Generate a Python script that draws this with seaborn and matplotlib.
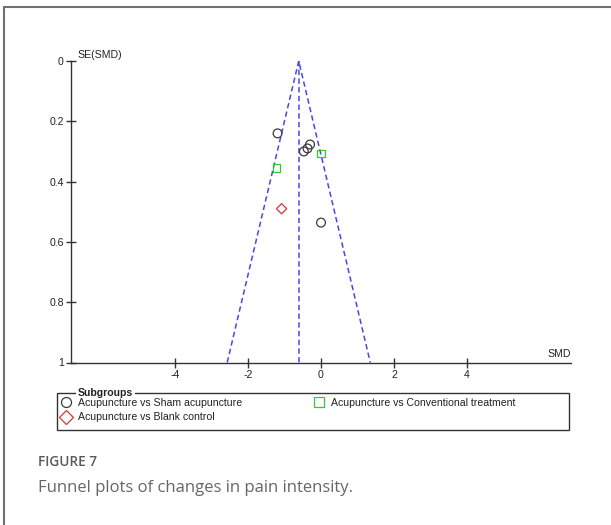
import numpy as np
import pandas as pd
import seaborn as sns
import matplotlib.pyplot as plt
from matplotlib.lines import Line2D
from matplotlib.patches import Rectangle

# Study estimates
smd = [-1.19, -0.47, -0.37, -0.30, 0.00, -1.22, 0.01, -1.08]
se = [0.24, 0.30, 0.29, 0.277, 0.536, 0.354, 0.307, 0.49]
group = ['Acupuncture vs Sham acupuncture'] * 5 + \
        ['Acupuncture vs Conventional treatment'] * 2 + \
        ['Acupuncture vs Blank control']

pooled_smd = -0.61
se_max = 1.0

group_order = ['Acupuncture vs Sham acupuncture',
               'Acupuncture vs Blank control',
               'Acupuncture vs Conventional treatment']
group_markers = {'Acupuncture vs Sham acupuncture': 'o',
                 'Acupuncture vs Blank control': 'D',
                 'Acupuncture vs Conventional treatment': 's'}
group_colors = {'Acupuncture vs Sham acupuncture': '#3a3a3a',
                'Acupuncture vs Blank control': '#dd3333',
                'Acupuncture vs Conventional treatment': '#33c933'}
group_sizes = {'Acupuncture vs Sham acupuncture': 40,
               'Acupuncture vs Blank control': 27,
               'Acupuncture vs Conventional treatment': 32}

df = pd.DataFrame({'SMD': smd, 'SE': se, 'group': group})

sns.set_theme(style='white')
plt.rcParams['font.family'] = ['Liberation Sans', 'DejaVu Sans']
fs = 7.6

fig = plt.figure(figsize=(6.11, 5.25), dpi=100)
ax = fig.add_axes([71 / 611, 1 - 362.5 / 525, 500 / 611, 301.5 / 525])

# funnel (pseudo 95% CI) and pooled effect
blue = '#4646ee'
ax.plot([pooled_smd - 1.96 * se_max, pooled_smd, pooled_smd + 1.96 * se_max],
        [se_max, 0, se_max], color=blue, lw=1.1, ls=(0, (3.5, 2.2)), zorder=1)
ax.plot([pooled_smd, pooled_smd], [0, se_max], color=blue, lw=1.1,
        ls=(0, (3.5, 2.2)), zorder=1)

for g in group_order:
    sub = df[df['group'] == g]
    sns.scatterplot(data=sub, x='SMD', y='SE', ax=ax, marker=group_markers[g],
                    s=group_sizes[g], color=group_colors[g],
                    edgecolor=group_colors[g], facecolor='none',
                    linewidth=0.9, label=g, legend=False, zorder=3)

ax.set_xlim(-6.85, 6.85)
ax.set_ylim(1, 0)
ax.set_xticks([-4, -2, 0, 2, 4])
ax.set_xticklabels(['-4', '-2', '0', '2', '4'])
ax.set_yticks([0, 0.2, 0.4, 0.6, 0.8, 1])
ax.set_yticklabels(['0', '0.2', '0.4', '0.6', '0.8', '1'])
ax.tick_params(axis='both', direction='inout', length=7, width=1,
               color='#333333', labelsize=fs, labelcolor='#222222',
               bottom=True, left=True)
ax.tick_params(axis='y', pad=1.8)
ax.tick_params(axis='x', pad=2.0)
for side in ['top', 'right']:
    ax.spines[side].set_visible(False)
for side in ['left', 'bottom']:
    ax.spines[side].set_color('#333333')
    ax.spines[side].set_linewidth(1)
ax.set_facecolor('white')

ax.set_ylabel('SE(SMD)', rotation=0, ha='left', va='center', fontsize=fs,
              color='#222222')
ax.yaxis.set_label_coords(0.012, 1.02)
ax.set_xlabel('SMD', ha='right', va='center', fontsize=fs, color='#222222')
ax.xaxis.set_label_coords(1.0, 0.028)

# legend
handles = [Line2D([], [], ls='none', marker=group_markers[g], markersize=7.2,
                  markerfacecolor='none', markeredgecolor=group_colors[g],
                  markeredgewidth=0.9) for g in group_order]
fig.legend(handles, group_order, loc='upper left',
           bbox_to_anchor=(61 / 611, 1 - 398 / 525), ncol=2, frameon=False,
           fontsize=fs, borderpad=0, borderaxespad=0, handlelength=1.0,
           handletextpad=0.6, columnspacing=6.8, labelspacing=0.42,
           labelcolor='#222222')
fig.add_artist(Rectangle((57 / 611, 1 - 430 / 525), 512 / 611, 37 / 525,
                         transform=fig.transFigure, fill=False,
                         edgecolor='#333333', lw=1, zorder=1))
fig.text(78 / 611, 1 - 392.5 / 525, 'Subgroups', fontsize=fs,
         fontweight='bold', color='#222222', ha='left', va='center',
         zorder=5, bbox=dict(facecolor='white', edgecolor='none', pad=1.5))

# panel frame and caption
fig.add_artist(Line2D([4 / 611, 1], [1 - 7 / 525, 1 - 7 / 525],
                      transform=fig.transFigure, color='#707070', lw=1.5))
fig.add_artist(Line2D([4 / 611, 4 / 611], [0, 1 - 7 / 525],
                      transform=fig.transFigure, color='#707070', lw=1.5))
fig.text(38 / 611, 1 - 462 / 525, 'FIGURE 7', fontsize=9.8,
         family=['Open Sans', 'DejaVu Sans'], fontweight='semibold',
         color='#5a5a5a', ha='left', va='center')
fig.text(38 / 611, 1 - 488 / 525, 'Funnel plots of changes in pain intensity.',
         fontsize=12, family=['Open Sans', 'DejaVu Sans'], color='#666666',
         ha='left', va='center')

fig.savefig('out.png', dpi=100, facecolor='white')
